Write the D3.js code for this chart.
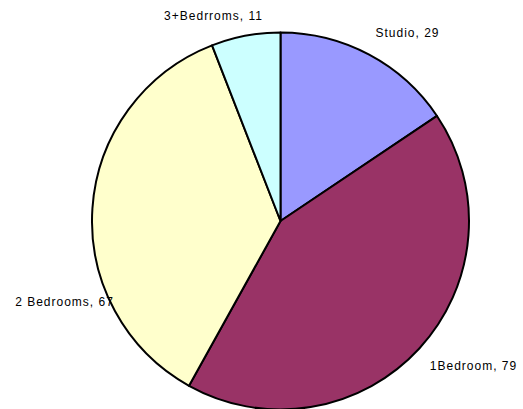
<!DOCTYPE html>
<meta charset="utf-8">
<style>
  body { margin: 0; background: #fff; }
  svg { display: block; }
  .lbl { font-family: "Liberation Sans", Arial, sans-serif; font-size: 12px; letter-spacing: 1px; fill: #000; }
</style>
<svg id="chart"></svg>
<script src="https://cdn.jsdelivr.net/npm/d3@7"></script>
<script>
// data
var categories = ["Studio", "1Bedroom", "2 Bedrooms", "3+Bedrroms"];
var counts = [29, 79, 67, 11];
var colors = ["#9999ff", "#993366", "#ffffcc", "#ccffff"];

// where each label sits, relative to the pie centre (px)
var labelOffsets = [[127, -188], [193, 145], [-216, 81], [-67, -205]];

var width = 523, height = 409;
var cx = 280.5, cy = 221, radius = 188.5;

var svg = d3.select("#chart").attr("width", width).attr("height", height);

var rows = categories.map(function (c, i) { return { name: c, value: counts[i], i: i }; });

var pie = d3.pie().sort(null).value(function (d) { return d.value; });
var arc = d3.arc().innerRadius(0).outerRadius(radius);

var g = svg.append("g").attr("transform", "translate(" + cx + "," + cy + ")");

g.selectAll("path.slice")
  .data(pie(rows))
  .join("path")
  .attr("class", "slice")
  .attr("d", arc)
  .attr("fill", function (d) { return colors[d.data.i]; })
  .attr("stroke", "#000")
  .attr("stroke-width", 2)
  .attr("stroke-linejoin", "round");

g.selectAll("text.lbl")
  .data(rows)
  .join("text")
  .attr("class", "lbl")
  .attr("x", function (d) { return labelOffsets[d.i][0]; })
  .attr("y", function (d) { return labelOffsets[d.i][1]; })
  .attr("dy", "0.35em")
  .attr("text-anchor", "middle")
  .text(function (d) { return d.name + ", " + d.value; });
</script>
